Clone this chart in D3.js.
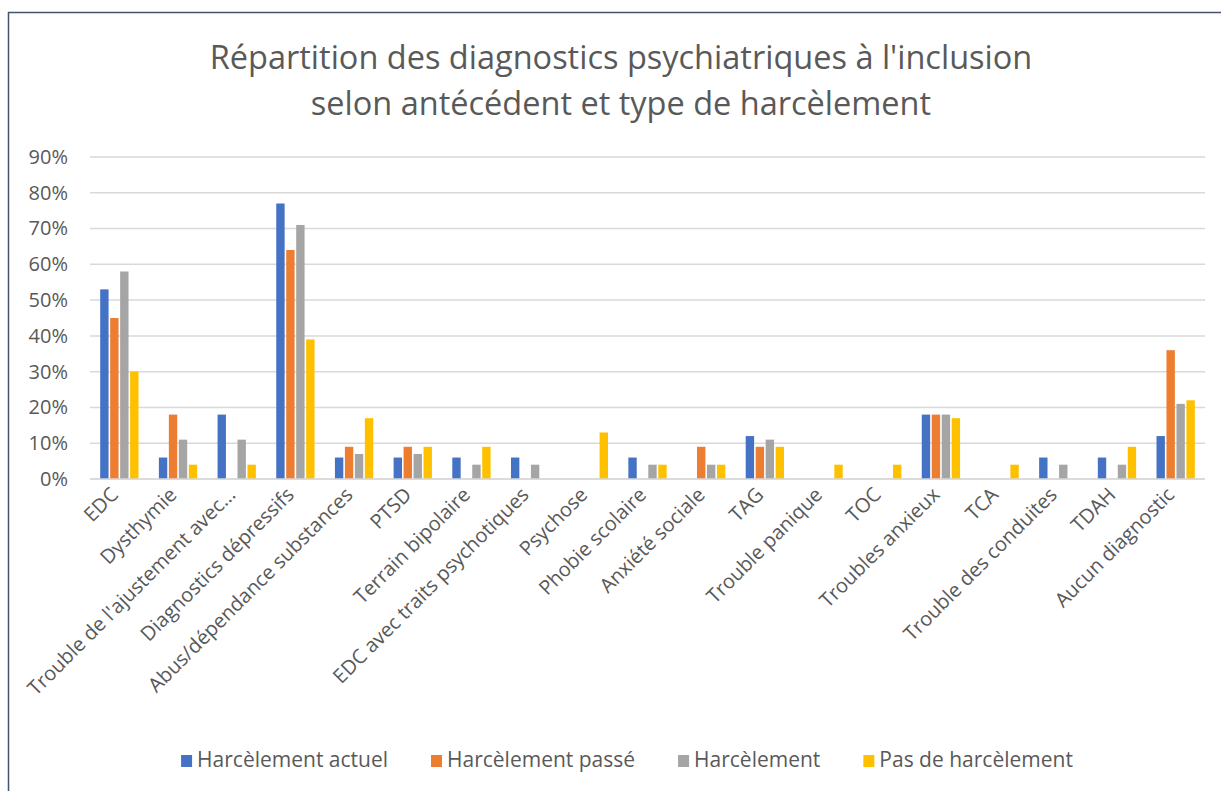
<!DOCTYPE html>
<html>
<head>
<meta charset="utf-8">
<script src="https://cdn.jsdelivr.net/npm/d3@7.9.0/dist/d3.min.js"></script>
<style>
  body { margin: 0; background: #fff; }
  svg { display: block; font-family: "Open Sans", sans-serif; }
</style>
</head>
<body>
<div id="chart"></div>
<script>
// Categories and series (percent values)
const categories = ["EDC", "Dysthymie", "Trouble de l'ajustement avec...", "Diagnostics dépressifs",
  "Abus/dépendance substances", "PTSD", "Terrain bipolaire", "EDC avec traits psychotiques",
  "Psychose", "Phobie scolaire", "Anxiété sociale", "TAG", "Trouble panique", "TOC",
  "Troubles anxieux", "TCA", "Trouble des conduites", "TDAH", "Aucun diagnostic"];
const seriesNames = ["Harcèlement actuel", "Harcèlement passé", "Harcèlement", "Pas de harcèlement"];
const actuel  = [53, 6, 18, 77, 6, 6, 6, 6, 0, 6, 0, 12, 0, 0, 18, 0, 6, 6, 12];
const passe   = [45, 18, 0, 64, 9, 9, 0, 0, 0, 0, 9, 9, 0, 0, 18, 0, 0, 0, 36];
const harc    = [58, 11, 11, 71, 7, 7, 4, 4, 0, 4, 4, 11, 0, 0, 18, 0, 4, 4, 21];
const pasHarc = [30, 4, 4, 39, 17, 9, 9, 0, 13, 4, 4, 9, 4, 4, 17, 4, 0, 9, 22];
const yTicks = [0, 10, 20, 30, 40, 50, 60, 70, 80, 90];
const colors = ["#4472C4", "#ED7D31", "#A5A5A5", "#FFC000"];

const seriesValues = [actuel, passe, harc, pasHarc];

const W = 1221, H = 791;
const plot = { left: 90, right: 1205, top: 157, bottom: 479 };

const svg = d3.select("#chart").append("svg")
  .attr("width", W)
  .attr("height", H);

// chart frame
svg.append("rect")
  .attr("x", 8.5).attr("y", 12.5)
  .attr("width", W + 20).attr("height", H + 20)
  .attr("fill", "#fff")
  .attr("stroke", "#44546A")
  .attr("stroke-width", 1.5);

const x0 = d3.scaleBand().domain(categories)
  .range([plot.left, plot.right])
  .paddingInner(0.32).paddingOuter(0.16);
const x1 = d3.scaleBand().domain(d3.range(seriesNames.length))
  .range([0, x0.bandwidth()]);
const y = d3.scaleLinear().domain([0, 90]).range([plot.bottom, plot.top]);

// gridlines
svg.append("g")
  .selectAll("line")
  .data(yTicks)
  .join("line")
  .attr("x1", plot.left).attr("x2", plot.right)
  .attr("y1", d => y(d)).attr("y2", d => y(d))
  .attr("stroke", "#D9D9D9")
  .attr("stroke-width", 1.5);

// y axis labels
const yAxis = svg.append("g")
  .attr("transform", `translate(${plot.left},0)`)
  .call(d3.axisLeft(y).tickValues(yTicks).tickFormat(d => d + "%").tickSize(0).tickPadding(22));
yAxis.select(".domain").remove();
yAxis.selectAll("text")
  .attr("fill", "#595959")
  .style("font-size", "20px")
  .style("font-family", "'Open Sans', sans-serif");

// bars
const table = categories.map((c, i) => ({ cat: c, vals: seriesValues.map(s => s[i]) }));

svg.append("g")
  .selectAll("g")
  .data(table)
  .join("g")
  .attr("transform", d => `translate(${x0(d.cat)},0)`)
  .selectAll("rect")
  .data(d => d.vals.map((v, k) => ({ k, v })))
  .join("rect")
  .attr("x", d => x1(d.k) + 0.8)
  .attr("width", x1.bandwidth() - 1.6)
  .attr("y", d => y(d.v))
  .attr("height", d => y(0) - y(d.v))
  .attr("fill", d => colors[d.k]);

// x axis line
svg.append("line")
  .attr("x1", plot.left).attr("x2", plot.right)
  .attr("y1", y(0)).attr("y2", y(0))
  .attr("stroke", "#D9D9D9")
  .attr("stroke-width", 1.5);

// x labels rotated
svg.append("g")
  .selectAll("text")
  .data(categories)
  .join("text")
  .attr("transform", d => `translate(${x0(d) + x0.bandwidth() / 2 - 5},${plot.bottom + 12}) rotate(-45)`)
  .attr("text-anchor", "end")
  .attr("dy", "0.35em")
  .attr("fill", "#595959")
  .style("font-size", "20px")
  .text(d => d);

// title
const title = svg.append("text")
  .attr("text-anchor", "middle")
  .attr("fill", "#595959")
  .style("font-size", "32.5px");
title.append("tspan").attr("x", 621).attr("y", 69)
  .text("Répartition des diagnostics psychiatriques à l'inclusion");
title.append("tspan").attr("x", 621).attr("y", 115)
  .text("selon antécédent et type de harcèlement");

// legend
const legend = svg.append("g");
const items = legend.selectAll("g")
  .data(seriesNames)
  .join("g");
items.append("rect")
  .attr("width", 11).attr("height", 12)
  .attr("y", -12)
  .attr("fill", (d, i) => colors[i]);
items.append("text")
  .attr("x", 16)
  .attr("y", 0)
  .attr("fill", "#595959")
  .style("font-size", "21px")
  .text(d => d);

let offset = 0;
const gap = 43;
const widths = [];
items.each(function () {
  widths.push(16 + d3.select(this).select("text").node().getComputedTextLength());
});
const total = d3.sum(widths) + gap * (widths.length - 1);
let start = 627 - total / 2;
items.attr("transform", (d, i) => {
  const t = `translate(${start + offset},767)`;
  offset += widths[i] + gap;
  return t;
});
</script>
</body>
</html>
